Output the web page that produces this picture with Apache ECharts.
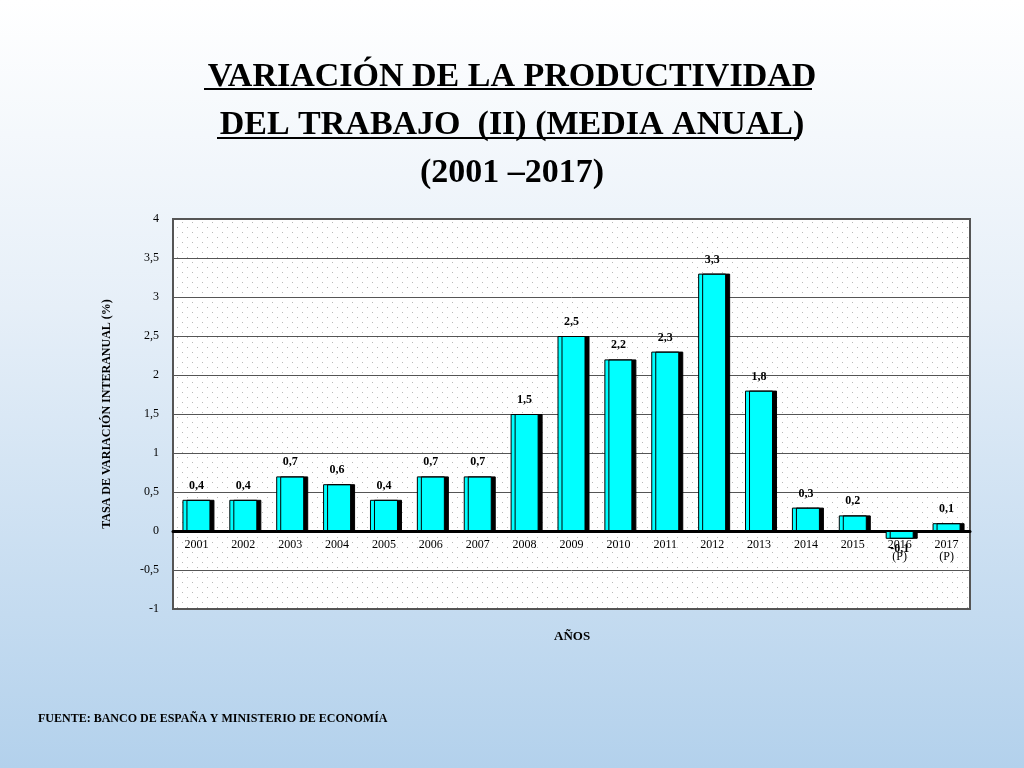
<!DOCTYPE html>
<html><head><meta charset="utf-8">
<script src="https://cdn.jsdelivr.net/npm/echarts@6/dist/echarts.min.js"></script>
<style>html,body{margin:0;padding:0}#c{width:1024px;height:768px;background:linear-gradient(#ffffff 0%,#e6eff8 40%,#b3d1ec 100%)}</style>
</head><body><div id="c"></div>
<script>
const years = ['2001','2002','2003','2004','2005','2006','2007','2008','2009','2010','2011','2012','2013','2014','2015','2016\n(P)','2017\n(P)'];
const values = [0.4,0.4,0.7,0.6,0.4,0.7,0.7,1.5,2.5,2.2,2.3,3.3,1.8,0.3,0.2,-0.1,0.1];

const cv = document.createElement('canvas'); cv.width = 10; cv.height = 10;
const cx = cv.getContext('2d'); cx.fillStyle='#fff'; cx.fillRect(0,0,10,10);
cx.fillStyle='#b8b8b8'; cx.fillRect(2,2,1,1); cx.fillRect(7,7,1,1);

const fmt = v => String(v).replace('.', ',');
const ch = echarts.init(document.getElementById('c'));
const serif = 'Liberation Serif';
ch.setOption({
  animation:false,
  title:{text:'VARIACIÓN DE LA PRODUCTIVIDAD\nDEL TRABAJO  (II) (MEDIA ANUAL)\n(2001 –2017)',left:'center',top:48,
    textStyle:{fontFamily:serif,fontSize:34,fontWeight:'bold',color:'#000',lineHeight:48}},
  graphic:[
    {type:'line',shape:{x1:204,y1:89,x2:812,y2:89},style:{stroke:'#000',lineWidth:2}},
    {type:'line',shape:{x1:217,y1:138,x2:799,y2:138},style:{stroke:'#000',lineWidth:2}},
    {type:'text',left:38,top:713,style:{text:'FUENTE: BANCO DE ESPAÑA Y MINISTERIO DE ECONOMÍA',fontFamily:serif,fontWeight:'bold',fontSize:12,fill:'#000'}},
    {type:'text',left:554,top:630,style:{text:'AÑOS',fontFamily:serif,fontWeight:'bold',fontSize:13,fill:'#000'}}
  ],
  grid:{left:173,top:219,width:797,height:390,show:true,backgroundColor:{image:cv,repeat:'repeat'},borderColor:'#555',borderWidth:2},
  xAxis:{type:'category',data:years,position:'bottom',offset:-78,
    axisLine:{onZero:false,lineStyle:{color:'#000',width:3}},axisTick:{show:false},
    axisLabel:{fontFamily:serif,fontSize:12,color:'#000',margin:8,interval:0}},
  yAxis:{type:'value',min:-1,max:4,interval:0.5,name:'TASA DE VARIACIÓN INTERANUAL (%)',nameLocation:'middle',nameGap:60,
    nameTextStyle:{fontFamily:serif,fontWeight:'bold',fontSize:12,color:'#000'},
    axisLine:{show:false},axisTick:{show:false},
    axisLabel:{fontFamily:serif,fontSize:12,color:'#000',margin:14,formatter:v=>fmt(v)},
    splitLine:{lineStyle:{color:'#555',width:1}}},
  series:[{type:'bar',data:values.map(v=>v<0?{value:v,label:{position:'bottom',distance:4}}:v),barWidth:28,
    itemStyle:{color:'#00ffff',borderColor:'#000',borderWidth:1,shadowColor:'#000',shadowOffsetX:4,shadowOffsetY:0,shadowBlur:0},
    label:{show:true,position:'top',distance:8,fontFamily:serif,fontWeight:'bold',fontSize:12,color:'#000',formatter:p=>fmt(p.value)}}]
});
</script></body></html>
